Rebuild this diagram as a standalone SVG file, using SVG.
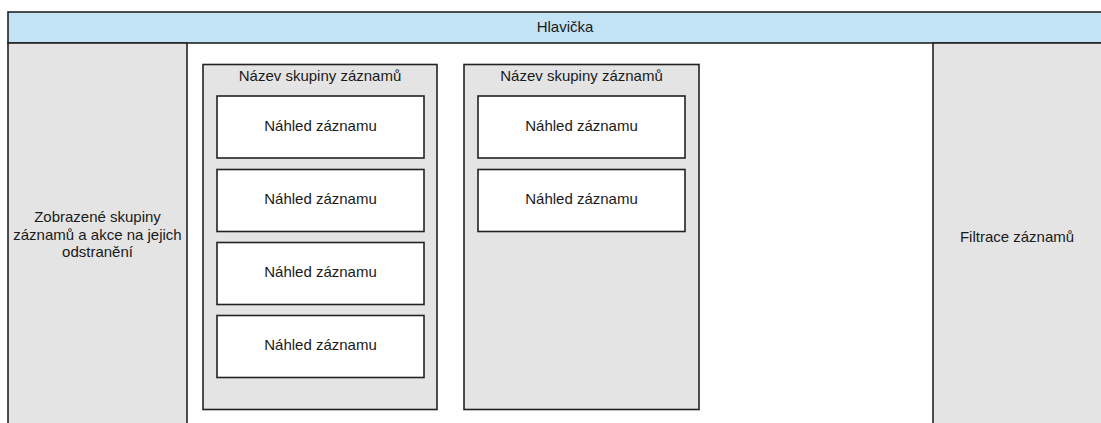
<svg xmlns="http://www.w3.org/2000/svg" width="1101" height="423" viewBox="0 0 1101 423">
<style>
  .box { stroke: #222222; stroke-width: 1.6; }
  .gray { fill: #e4e4e4; }
  .blue { fill: #c3e4f6; }
  .white { fill: #ffffff; }
  text { font-family: "Liberation Sans", Arial, sans-serif; font-size: 15px; fill: #1a1a1a; text-anchor: middle; }
</style>
<rect x="0" y="0" width="1101" height="423" fill="#ffffff"/>
<g id="header">
  <rect class="box blue" x="8" y="12" width="1120" height="31"/>
  <text x="565" y="32">Hlavička</text>
</g>
<g id="left-panel">
  <rect class="box gray" x="8" y="43" width="179" height="400"/>
  <text x="97.5" y="222">Zobrazené skupiny</text>
  <text x="97.5" y="239.5">záznamů a akce na jejich</text>
  <text x="97.5" y="257">odstranění</text>
</g>
<g id="right-panel">
  <rect class="box gray" x="933" y="43" width="200" height="400"/>
  <text x="1017" y="242">Filtrace záznamů</text>
</g>
<g id="group1">
  <rect class="box gray" x="203" y="64.5" width="234" height="345"/>
  <text x="320" y="81">Název skupiny záznamů</text>
</g>
<g id="g1-card1">
  <rect class="box white" x="217" y="96" width="207" height="62"/>
  <text x="320.5" y="131">Náhled záznamu</text>
</g>
<g id="g1-card2">
  <rect class="box white" x="217" y="169.5" width="207" height="62"/>
  <text x="320.5" y="204">Náhled záznamu</text>
</g>
<g id="g1-card3">
  <rect class="box white" x="217" y="242.5" width="207" height="62"/>
  <text x="320.5" y="277">Náhled záznamu</text>
</g>
<g id="g1-card4">
  <rect class="box white" x="217" y="315.5" width="207" height="62"/>
  <text x="320.5" y="350">Náhled záznamu</text>
</g>
<g id="group2">
  <rect class="box gray" x="464" y="64.5" width="235" height="345"/>
  <text x="581.5" y="81">Název skupiny záznamů</text>
</g>
<g id="g2-card1">
  <rect class="box white" x="478" y="96" width="207" height="62"/>
  <text x="581.5" y="131">Náhled záznamu</text>
</g>
<g id="g2-card2">
  <rect class="box white" x="478" y="169.5" width="207" height="62"/>
  <text x="581.5" y="204">Náhled záznamu</text>
</g>
<g id="connectors"></g>
</svg>
